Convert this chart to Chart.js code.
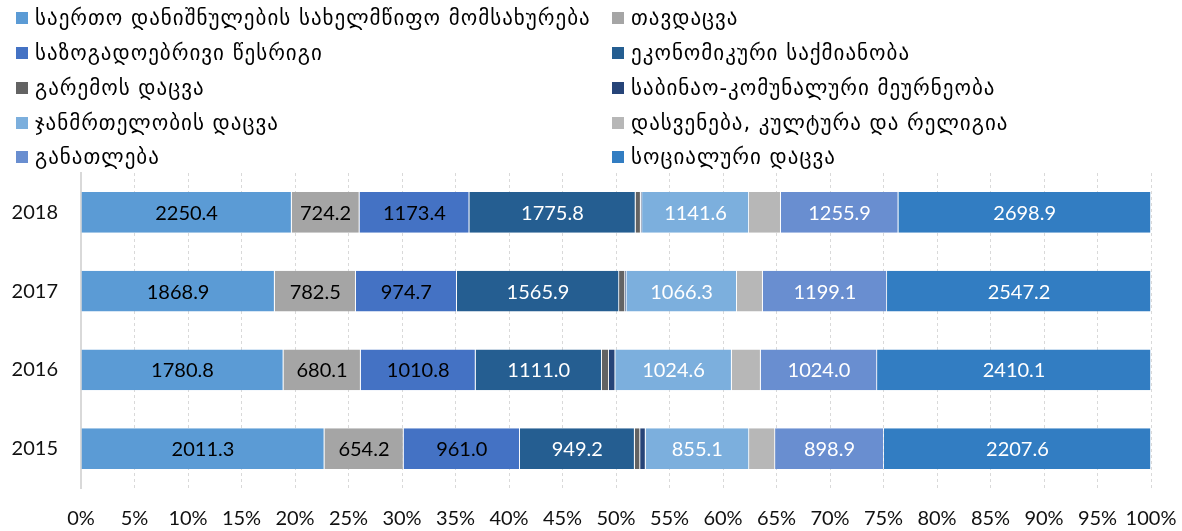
<!DOCTYPE html>
<html><head><meta charset="utf-8">
<script src="https://cdn.jsdelivr.net/npm/chart.js@4/dist/chart.umd.min.js"></script>
<style>
html,body{margin:0;padding:0;background:#fff;}
#wrap{position:relative;width:1182px;height:531px;overflow:hidden;}
canvas{position:absolute;left:0;top:0;}
#legend{position:absolute;left:0;top:0;width:1182px;height:172px;font-family:"DejaVu Sans",sans-serif;font-size:21px;letter-spacing:1px;color:#000;}
.item{position:absolute;display:flex;align-items:center;white-space:nowrap;height:30px;}
.box{width:12px;height:12px;margin-right:7px;flex:none;}
</style></head>
<body>
<div id="wrap"><canvas id="c" width="1182" height="531"></canvas><div id="legend"></div></div>
<script>
// ---- data ----
const years = ['2018', '2017', '2016', '2015'];
const seriesNames = [
  'საერთო დანიშნულების სახელმწიფო მომსახურება',
  'თავდაცვა',
  'საზოგადოებრივი წესრიგი',
  'ეკონომიკური საქმიანობა',
  'გარემოს დაცვა',
  'საბინაო-კომუნალური მეურნეობა',
  'ჯანმრთელობის დაცვა',
  'დასვენება, კულტურა და რელიგია',
  'განათლება',
  'სოციალური დაცვა'
];
const generalServices = [2250.4, 1868.9, 1780.8, 2011.3];
const defence = [724.2, 782.5, 680.1, 654.2];
const publicOrder = [1173.4, 974.7, 1010.8, 961.0];
const economicAffairs = [1775.8, 1565.9, 1111.0, 949.2];
const environment = [55, 58, 62, 45];
const housing = [15, 12, 56, 45];
const health = [1141.6, 1066.3, 1024.6, 855.1];
const recreation = [340, 250, 255, 215];
const education = [1255.9, 1199.1, 1024.0, 898.9];
const socialProtection = [2698.9, 2547.2, 2410.1, 2207.6];
const tickPercents = [0, 5, 10, 15, 20, 25, 30, 35, 40, 45, 50, 55, 60, 65, 70, 75, 80, 85, 90, 95, 100];

// ---- styling ----
const seriesValues = [generalServices, defence, publicOrder, economicAffairs, environment, housing, health, recreation, education, socialProtection];
const colors = ['#5B9BD5', '#A5A5A5', '#4472C4', '#255E91', '#636363', '#264478', '#7CAFDD', '#B7B7B7', '#698ED0', '#327DC2'];
const showValues = [true, true, true, true, false, false, true, false, true, true];
const labelColors = ['#000', '#000', '#000', '#fff', '#fff', '#fff', '#fff', '#000', '#fff', '#fff'];

const totals = years.map((_, j) => seriesValues.reduce((s, arr) => s + arr[j], 0));

const datasets = seriesValues.map((arr, i) => ({
  label: seriesNames[i],
  data: arr.map((v, j) => v / totals[j] * 100),
  raw: arr,
  backgroundColor: colors[i],
  borderColor: 'rgba(255,255,255,0.85)',
  borderWidth: {left: 0, top: 0, bottom: 0, right: 0.8},
  borderSkipped: false,
  showValues: showValues[i],
  labelColor: labelColors[i],
  barPercentage: 0.52,
  categoryPercentage: 1.0
}));

// HTML legend in two columns
const legend = document.getElementById('legend');
const rowY = [18, 53, 88, 123, 157];
seriesNames.forEach((name, i) => {
  const col = i % 2, row = Math.floor(i / 2);
  const d = document.createElement('div');
  d.className = 'item';
  d.style.left = (col === 0 ? 16 : 612) + 'px';
  d.style.top = (rowY[row] - 15) + 'px';
  const b = document.createElement('span');
  b.className = 'box';
  b.style.background = colors[i];
  const t = document.createElement('span');
  t.textContent = name;
  d.appendChild(b); d.appendChild(t);
  legend.appendChild(d);
});

const valueLabels = {
  id: 'valueLabels',
  afterDatasetsDraw(chart) {
    const ctx = chart.ctx;
    ctx.save();
    ctx.font = '20px Lato, "DejaVu Sans", sans-serif';
    ctx.textAlign = 'center';
    ctx.textBaseline = 'middle';
    chart.data.datasets.forEach((ds, i) => {
      if (!ds.showValues) return;
      const meta = chart.getDatasetMeta(i);
      meta.data.forEach((bar, j) => {
        const p = bar.getProps(['x', 'y', 'base'], true);
        ctx.fillStyle = ds.labelColor;
        ctx.fillText(ds.raw[j].toFixed(1), (p.x + p.base) / 2, p.y + 1);
      });
    });
    ctx.restore();
  }
};

new Chart(document.getElementById('c'), {
  type: 'bar',
  data: {labels: years, datasets: datasets},
  plugins: [valueLabels],
  options: {
    indexAxis: 'y',
    responsive: false,
    animation: false,
    layout: {padding: {top: 173, right: 31, bottom: 0, left: 0}},
    plugins: {legend: {display: false}, tooltip: {enabled: false}},
    scales: {
      x: {
        stacked: true,
        min: 0, max: 100,
        afterBuildTicks(scale) { scale.ticks = tickPercents.map(v => ({value: v})); },
        afterFit(scale) { scale.height = 43; scale.paddingLeft = 0; scale.paddingRight = 0; },
        ticks: {
          callback: v => v + '%',
          font: {family: 'Lato, "DejaVu Sans", sans-serif', size: 20},
          color: '#111',
          padding: 19,
          maxRotation: 0, autoSkip: false
        },
        grid: {color: '#d9d9d9', drawTicks: false, lineWidth: 1},
        border: {display: false, dash: [3, 3]}
      },
      y: {
        stacked: true,
        afterFit(scale) { scale.width = 81; scale.paddingTop = 0; scale.paddingBottom = 0; },
        ticks: {
          font: {family: 'Lato, "DejaVu Sans", sans-serif', size: 20},
          color: '#111',
          padding: 23
        },
        grid: {display: false, drawTicks: false},
        border: {display: true, color: '#d9d9d9', width: 2}
      }
    }
  }
});
</script>
</body></html>
